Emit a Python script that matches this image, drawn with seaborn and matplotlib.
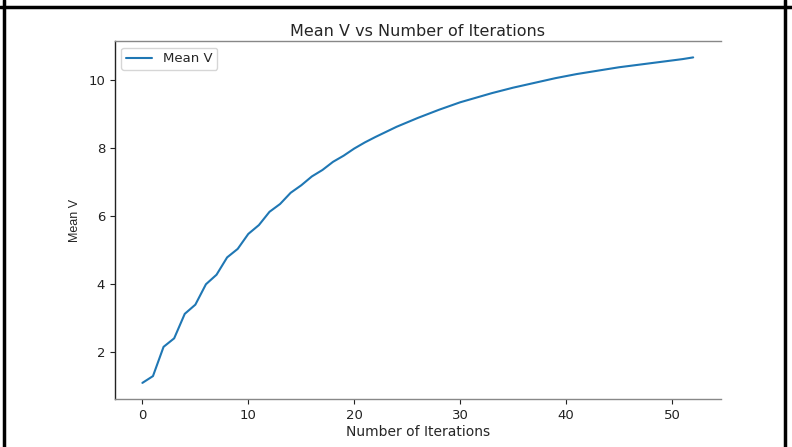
import matplotlib
matplotlib.use("Agg")
import matplotlib.pyplot as plt
from matplotlib.lines import Line2D
import seaborn as sns
import pandas as pd

iterations = list(range(53))
mean_v = [
    1.09, 1.29, 2.15, 2.40, 3.12, 3.39, 3.99, 4.27, 4.78, 5.03,
    5.47, 5.73, 6.12, 6.35, 6.68, 6.90, 7.16, 7.35, 7.59, 7.77,
    7.98, 8.16, 8.32, 8.47, 8.62, 8.75, 8.88, 9.00, 9.12, 9.23,
    9.34, 9.43, 9.52, 9.61, 9.69, 9.77, 9.84, 9.91, 9.98, 10.05,
    10.11, 10.17, 10.22, 10.27, 10.32, 10.37, 10.41, 10.45, 10.49, 10.53,
    10.57, 10.61, 10.66,
]

df = pd.DataFrame({"Number of Iterations": iterations, "Mean V": mean_v})

sns.set_style("white")
plt.rcParams["font.family"] = ["DejaVu Sans"]

fig = plt.figure(figsize=(7.92, 4.47), dpi=100)
ax = fig.add_axes([0.145, 0.107, 0.765, 0.801])

sns.lineplot(data=df, x="Number of Iterations", y="Mean V", ax=ax,
             color="#1f77b4", linewidth=1.5, label="Mean V")

ax.set_title("Mean V vs Number of Iterations", fontsize=11.5, pad=4)
ax.set_xlabel("Number of Iterations", fontsize=10, labelpad=2)
ax.set_ylabel("Mean V", fontsize=9, family=["Liberation Sans"], labelpad=5)
ax.set_xticks([0, 10, 20, 30, 40, 50])
ax.set_yticks([2, 4, 6, 8, 10])
ax.tick_params(axis="both", labelsize=9.5, length=3.5, width=0.8,
               direction="out", bottom=True, left=True, colors="#222222")

ax.spines["right"].set_visible(False)
ax.spines["left"].set_color("#222222")
ax.spines["top"].set_color("#888888")
ax.spines["bottom"].set_color("#888888")
for s in ax.spines.values():
    s.set_linewidth(1.0)

leg = ax.legend(loc="upper left", fontsize=9.5, frameon=True, fancybox=True,
                handlelength=2.0, borderpad=0.35)
leg.get_frame().set_edgecolor("#cccccc")

# surrounding frame lines
fig.add_artist(Line2D([0, 1], [1 - 7 / 447, 1 - 7 / 447], transform=fig.transFigure,
                      color="black", linewidth=2.5))
fig.add_artist(Line2D([4 / 792, 4 / 792], [0, 1], transform=fig.transFigure,
                      color="black", linewidth=2.5))
fig.add_artist(Line2D([785 / 792, 785 / 792], [0, 1], transform=fig.transFigure,
                      color="black", linewidth=2.5))

fig.savefig("out.png", dpi=100)
